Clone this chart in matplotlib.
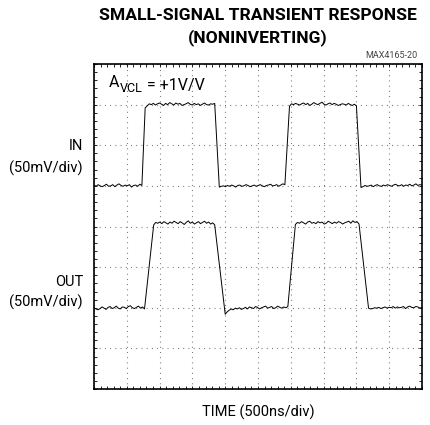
import numpy as np
import matplotlib
matplotlib.use("Agg")
import matplotlib.pyplot as plt
from matplotlib.ticker import MultipleLocator

plt.rcParams['font.family'] = ['Roboto', 'DejaVu Sans']

# scope screen: 10 x 8 divisions, y in divisions from bottom
# flat segments: (start, end, level) and typed noise (0.01 div units)
in_segments = [(0.00, 1.46, 5.00), (1.56, 3.68, 7.00), (3.82, 5.82, 5.00),
               (5.96, 8.00, 7.00), (8.14, 10.0, 5.00)]
in_noise = [
    [2, -1, 3, 0, -2, 1, 4, -1, 0, 3, -2, 2, 5, 1, -1, 2, 0, 3, -3, 1, 2, -1, 4, 1],
    [-8, -3, 2, 0, 3, -1, 2, 4, 1, -2, 3, 0, 5, 2, -1, 4, 1, 3, -2, 0, 2, 5, 1, -1, 3, 0, 2, -2, 1, 4, 0, -1, 2, 1, 3],
    [-3, -1, 0, -2, 1, -1, 2, 0, -3, 1, 2, -1, 0, 3, 1, -2, 0, 2, -1, 1, 3, 0, -2, 1, 2, 4, 0, 1, 3, -1, 2, 5, 3],
    [-4, 2, 0, 3, 1, -1, 2, 4, 0, 3, -2, 1, 5, 2, 0, 3, 6, 1, -1, 2, 4, 0, 3, 1, -2, 0, 2, 1, -1, 3, 0, -2, 1, -3],
    [-4, -2, 1, -1, 0, 2, -2, 1, 3, 0, -1, 2, 0, 3, 1, -1, 2, 4, 1, 0, 3, -1, 2, 1, 4, 0, 2, 5, 1, 3, 2],
]

out_segments = [(0.00, 1.54, 2.00), (1.82, 3.68, 4.08), (4.00, 5.91, 2.00),
                (6.14, 8.08, 4.08), (8.37, 10.0, 2.00)]
out_noise = [
    [0, -3, -5, -2, 2, -1, -4, 1, 3, -2, 0, 4, -1, -3, 2, 1, -2, 3, 5, 0, -2, 1, 4, -1, 2, -3],
    [-4, 2, 0, 3, -1, 4, 1, -2, 3, 0, 5, 2, -1, 4, 1, -3, 2, 6, 0, 3, -2, 1, 4, -1, 2, 5, 0, 3, -2, 1, -4],
    [-16, -10, -6, -3, -5, -1, -3, 0, -4, -2, 1, -3, 2, 0, -2, 3, 1, -3, 0, 2, 4, -1, 1, 3, -2, 0, 4, 1, -1, 2, 0, 3],
    [-3, 2, 0, 4, 1, -2, 3, 5, 0, 2, -1, 4, 1, 3, -2, 0, 5, 2, -1, 3, 0, 4, 2, -2, 1, 3, 5, 0, 6, 2, 4, -2],
    [-1, -3, -2, 0, -1, 1, -2, 0, 2, -1, 1, 0, 3, -1, 2, 0, 1, 3, -2, 2, 4, 1, 0, 3, 2, -1, 1],
]


def build_trace(segments, noise):
    t_all, v_all = [], []
    for (t0, t1, level), n in zip(segments, noise):
        t_all.append(np.linspace(t0, t1, len(n)))
        v_all.append(level + np.array(n) * 0.01)
    return np.concatenate(t_all), np.concatenate(v_all)


t_in, v_in = build_trace(in_segments, in_noise)
t_out, v_out = build_trace(out_segments, out_noise)

fig = plt.figure(figsize=(4.3, 4.25), dpi=100)
ax = fig.add_axes([94 / 430, 36 / 425, 328 / 430, 325 / 425])

ax.plot(t_in, v_in, color='black', lw=0.7)
ax.plot(t_out, v_out, color='black', lw=0.7)

ax.set_xlim(0, 10)
ax.set_ylim(0, 8)
ax.xaxis.set_major_locator(MultipleLocator(1))
ax.yaxis.set_major_locator(MultipleLocator(1))
ax.xaxis.set_minor_locator(MultipleLocator(0.2))
ax.yaxis.set_minor_locator(MultipleLocator(0.2))
ax.tick_params(which='both', direction='in', top=True, right=True,
               labelbottom=False, labelleft=False, width=0.6, color='black')
ax.tick_params(which='major', length=2.5)
ax.tick_params(which='minor', length=2)
ax.grid(True, which='major', color='#666666', lw=0.8, linestyle=(0, (0.8, 3.9)))
for sp in ax.spines.values():
    sp.set_linewidth(1.2)

# texts (figure pixel positions)
def ftext(x, y, s, **kw):
    return fig.text(x / 430, 1 - y / 425, s, **kw)

ftext(258, 15, 'SMALL-SIGNAL TRANSIENT RESPONSE', ha='center', va='center',
      fontsize=12.6, fontweight='bold')
ftext(258, 38, '(NONINVERTING)', ha='center', va='center',
      fontsize=12.6, fontweight='bold')
ftext(418, 56, 'MAX4165-20', ha='right', va='center', fontsize=6.5, color='#444444')
ftext(83, 146, 'IN', ha='right', va='center', fontsize=10.5)
ftext(83, 168, '(50mV/div)', ha='right', va='center', fontsize=10.5)
ftext(83, 282, 'OUT', ha='right', va='center', fontsize=10.5)
ftext(83, 302, '(50mV/div)', ha='right', va='center', fontsize=10.5)

# gain label: A with smaller VCL subscript, then the rest
t_a = ftext(109, 87, 'A', ha='left', va='baseline', fontsize=11.5)
ax.annotate('VCL', xy=(1, 0), xycoords=t_a, xytext=(0.3, -1.5),
            textcoords='offset points', ha='left', va='baseline', fontsize=9)
ax.annotate(' = +1V/V', xy=(1, 0), xycoords=t_a, xytext=(17.2, 0),
            textcoords='offset points', ha='left', va='baseline', fontsize=11.5)

ftext(258, 412, 'TIME (500ns/div)', ha='center', va='center', fontsize=10.5)

fig.savefig('out.png', dpi=100)
